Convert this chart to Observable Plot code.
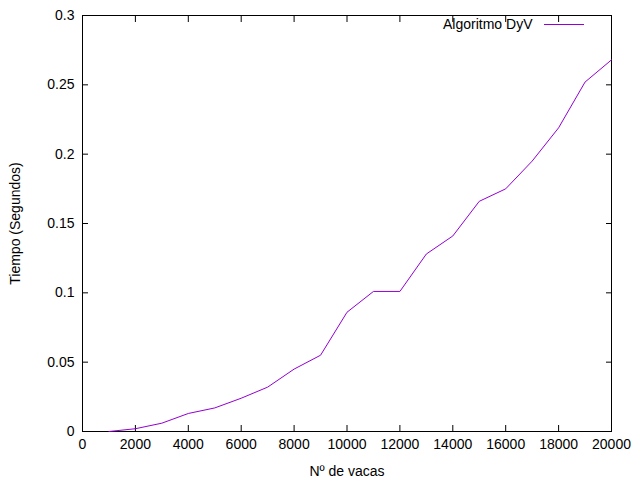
<!DOCTYPE html>
<html><head><meta charset="utf-8">
<script src="https://cdn.jsdelivr.net/npm/d3@7"></script>
<script src="https://cdn.jsdelivr.net/npm/@observablehq/plot@0.6"></script>
<style>body{margin:0;background:#fff;font-family:"Liberation Sans",Arial,sans-serif}#c{position:relative;width:640px;height:480px}
#leg{position:absolute;left:443px;top:16px;font-size:14px;display:flex;align-items:center}
#leg span.l{display:inline-block;width:40px;border-top:1px solid #9400d3;margin-left:12px}</style>
</head><body><div id="c"><div id="leg">Algoritmo DyV<span class="l"></span></div></div>
<script>
const vacas = [1000,2000,3000,4000,5000,6000,7000,8000,9000,10000,11000,12000,13000,14000,15000,16000,17000,18000,19000,20000];
const tiempos = [0,0.002,0.006,0.013,0.017,0.024,0.032,0.045,0.055,0.086,0.101,0.101,0.128,0.141,0.166,0.175,0.195,0.219,0.252,0.268];
const xTicks = d3.range(0,20001,2000);
const yTicks = [0,0.05,0.1,0.15,0.2,0.25,0.3];
const data = vacas.map((v,i)=>({x:v,y:tiempos[i]}));
const chart = Plot.plot({
  width:640,height:480,marginLeft:82,marginRight:29,marginTop:15,marginBottom:49,
  style:{fontFamily:"Liberation Sans, Arial, sans-serif",fontSize:"14px",color:"#000"},
  x:{domain:[0,20000]},
  y:{domain:[0,0.3]},
  marks:[
    Plot.frame({stroke:"#000"}),
    Plot.axisX({ticks:xTicks,tickSize:-6,tickPadding:14,tickFormat:d=>String(d),label:"Nº de vacas",labelAnchor:"center",labelArrow:"none",labelOffset:44,fontSize:14}),
    Plot.axisX({anchor:"top",ticks:xTicks,tickSize:-6,tickFormat:()=>"",label:null}),
    Plot.axisY({ticks:yTicks,tickSize:-6,tickPadding:14,tickFormat:d=>String(d),label:"Tiempo (Segundos)",labelAnchor:"center",labelArrow:"none",labelOffset:72,fontSize:14}),
    Plot.axisY({anchor:"right",ticks:yTicks,tickSize:-6,tickFormat:()=>"",label:null}),
    Plot.line(data,{x:"x",y:"y",stroke:"#9400d3",strokeWidth:1})
  ]
});
document.getElementById("c").prepend(chart);
</script></body></html>
